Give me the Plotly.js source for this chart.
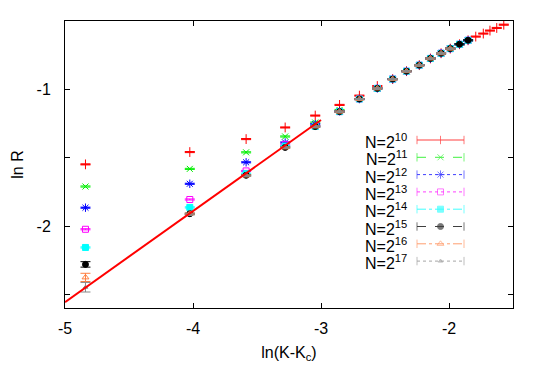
<!DOCTYPE html>
<html>
<head>
<meta charset="utf-8">
<script src="https://cdn.plot.ly/plotly-3.0.1.min.js"></script>
<style>html,body{margin:0;padding:0;background:#fff;}#chart{width:545px;height:382px;}</style>
</head>
<body>
<div id="chart"></div>
<script>
// x positions ln(K-Kc) of the measured points
const lnK = [-4.84, -4.025, -3.585, -3.28, -3.045, -2.855, -2.70, -2.56, -2.44, -2.332,
             -2.232, -2.145, -2.062, -1.99, -1.918, -1.851, -1.791, -1.732, -1.68, -1.627, -1.572];

// ln R for each system size
const lnR_10 = [-1.549, -1.459, -1.364, -1.279, -1.192, -1.114, -1.046, -0.976, -0.925, -0.867,
                -0.823, -0.774, -0.736, -0.702, -0.670, -0.641, -0.614, -0.592, -0.570, -0.551, -0.527];
const lnR_11 = [-1.711, -1.582, -1.461, -1.345, -1.243, -1.151, -1.071, -0.993, -0.925, -0.867,
                -0.823, -0.774, -0.736, -0.702, -0.670, -0.641];
const lnR_12 = [-1.866, -1.691, -1.534, -1.389, -1.255, -1.160, -1.071, -0.993, -0.925, -0.867,
                -0.823, -0.774, -0.736, -0.702, -0.670, -0.641];
const lnR_13 = [-2.024, -1.806, -1.597, -1.405, -1.270, -1.163, -1.071, -0.993, -0.925, -0.867,
                -0.823, -0.774, -0.736, -0.702, -0.670, -0.641];
const lnR_14 = [-2.157, -1.864, -1.617, -1.415, -1.272, -1.163, -1.071, -0.993, -0.925, -0.867,
                -0.823, -0.774, -0.736, -0.702, -0.670, -0.641];
const lnR_15 = [-2.281, -1.910, -1.629, -1.425, -1.272, -1.163, -1.071, -0.993, -0.925, -0.867,
                -0.823, -0.774, -0.736, -0.702, -0.670, -0.641];
const lnR_16 = [-2.376, -1.910, -1.630, -1.425, -1.272, -1.163, -1.071, -0.993, -0.925, -0.867,
                -0.823, -0.774, -0.736, -0.702];
const lnR_17 = [-2.448, -1.915, -1.632, -1.425, -1.272, -1.163, -1.071, -0.993, -0.925, -0.867,
                -0.823, -0.774, -0.736, -0.702];

// first-column error bars (others tiny)
const err16_first = 0.03;
const err17_first = 0.035;
const err15_first = 0.02;

// fitted line
const fitX = [-5, -3];
const fitY = [-2.557, -1.224];

const labels = ['N=2<sup>10</sup>','N=2<sup>11</sup>','N=2<sup>12</sup>','N=2<sup>13</sup>',
                'N=2<sup>14</sup>','N=2<sup>15</sup>','N=2<sup>16</sup>','N=2<sup>17</sup>'];

const series = [lnR_10, lnR_11, lnR_12, lnR_13, lnR_14, lnR_15, lnR_16, lnR_17];
const colors = ['#ff0000', '#00ee00', '#0000ff', '#ff00ff', '#00ffff', '#000000', '#ff7f40', '#888888'];
const symbols = ['cross-thin-open', 'x-thin-open', 'asterisk-open', 'square-open', 'square', 'circle', 'triangle-up-open', 'triangle-up'];
const sizes = [7, 6, 7, 6, 6, 6, 6, 4];
const dashes = ['solid', 'dash', 'dot', 'dot', 'dashdot', 'dash', 'dashdot', 'dot'];

const traces = [];
series.forEach((ys, i) => {
  const xs = lnK.slice(0, ys.length);
  const errs = ys.map((v, j) => {
    if (j === 0 && i === 6) return err16_first;
    if (j === 0 && i === 7) return err17_first;
    if (j === 0 && i === 5) return err15_first;
    return 0.004;
  });
  traces.push({
    x: xs, y: ys, type: 'scatter', mode: 'markers', showlegend: false,
    marker: {symbol: symbols[i], size: sizes[i], color: colors[i],
             line: {color: colors[i], width: 1}},
    error_y: {type: 'data', array: errs, visible: true, color: colors[i], thickness: 1, width: 5},
    hoverinfo: 'skip'
  });
});

traces.push({
  x: fitX, y: fitY, type: 'scatter', mode: 'lines', showlegend: false,
  line: {color: '#ff0000', width: 2}, hoverinfo: 'skip'
});

// legend samples drawn on a hidden pixel-like overlay axis
const legRowY = [140, 157.3, 174.6, 191.9, 209.2, 226.5, 243.8, 261.1];
const annotations = [];
legRowY.forEach((ry, i) => {
  traces.push({
    x: [417, 440.5, 464], y: [ry, ry, ry], xaxis: 'x2', yaxis: 'y2',
    type: 'scatter', mode: 'lines+markers', showlegend: false, hoverinfo: 'skip',
    line: {color: colors[i], width: 1, dash: dashes[i]},
    opacity: 0.75,
    marker: {symbol: [ 'line-ns-open', i === 0 ? 'line-ns-open' : symbols[i], 'line-ns-open'],
             size: [6, i === 0 ? 6 : sizes[i], 6], color: colors[i],
             line: {color: colors[i], width: 1}}
  });
  annotations.push({
    x: 408, y: ry + 1, xref: 'x2', yref: 'y2', text: labels[i], showarrow: false,
    xanchor: 'right', yanchor: 'middle', borderpad: 0,
    font: {family: 'Liberation Sans, Arial, sans-serif', size: 16, color: '#000'}
  });
});

const font = {family: 'Liberation Sans, Arial, sans-serif', size: 16, color: '#000'};

const layout = {
  width: 545, height: 382,
  margin: {l: 65, r: 32, t: 21, b: 74},
  paper_bgcolor: '#fff', plot_bgcolor: '#fff',
  font: font,
  showlegend: false,
  xaxis: {
    range: [-5, -1.5], tickvals: [-5, -4, -3, -2], ticktext: ['-5', '-4', '-3', '-2'],
    ticks: 'inside', ticklen: 5, tickcolor: '#000', showline: true, linecolor: '#000', linewidth: 1,
    mirror: 'ticks', showgrid: false, zeroline: false, ticklabelstandoff: 6,
    title: {text: 'ln(K-K<sub>c</sub>)', font: font, standoff: 10}
  },
  yaxis: {
    range: [-2.6, -0.5], tickvals: [-2.5, -2, -1.5, -1, -0.5], ticktext: ['', '-2', '', '-1', ''],
    ticks: 'inside', ticklen: 5, tickcolor: '#000', showline: true, linecolor: '#000', linewidth: 1,
    mirror: 'ticks', showgrid: false, zeroline: false, ticklabelstandoff: 10,
    title: {text: 'ln R', font: font, standoff: 8}
  },
  xaxis2: {overlaying: 'x', range: [65, 513], visible: false, fixedrange: true},
  yaxis2: {overlaying: 'y', range: [308, 21], visible: false, fixedrange: true},
  annotations: annotations
};

Plotly.newPlot('chart', traces, layout, {displayModeBar: false, staticPlot: true});
</script>
</body>
</html>
